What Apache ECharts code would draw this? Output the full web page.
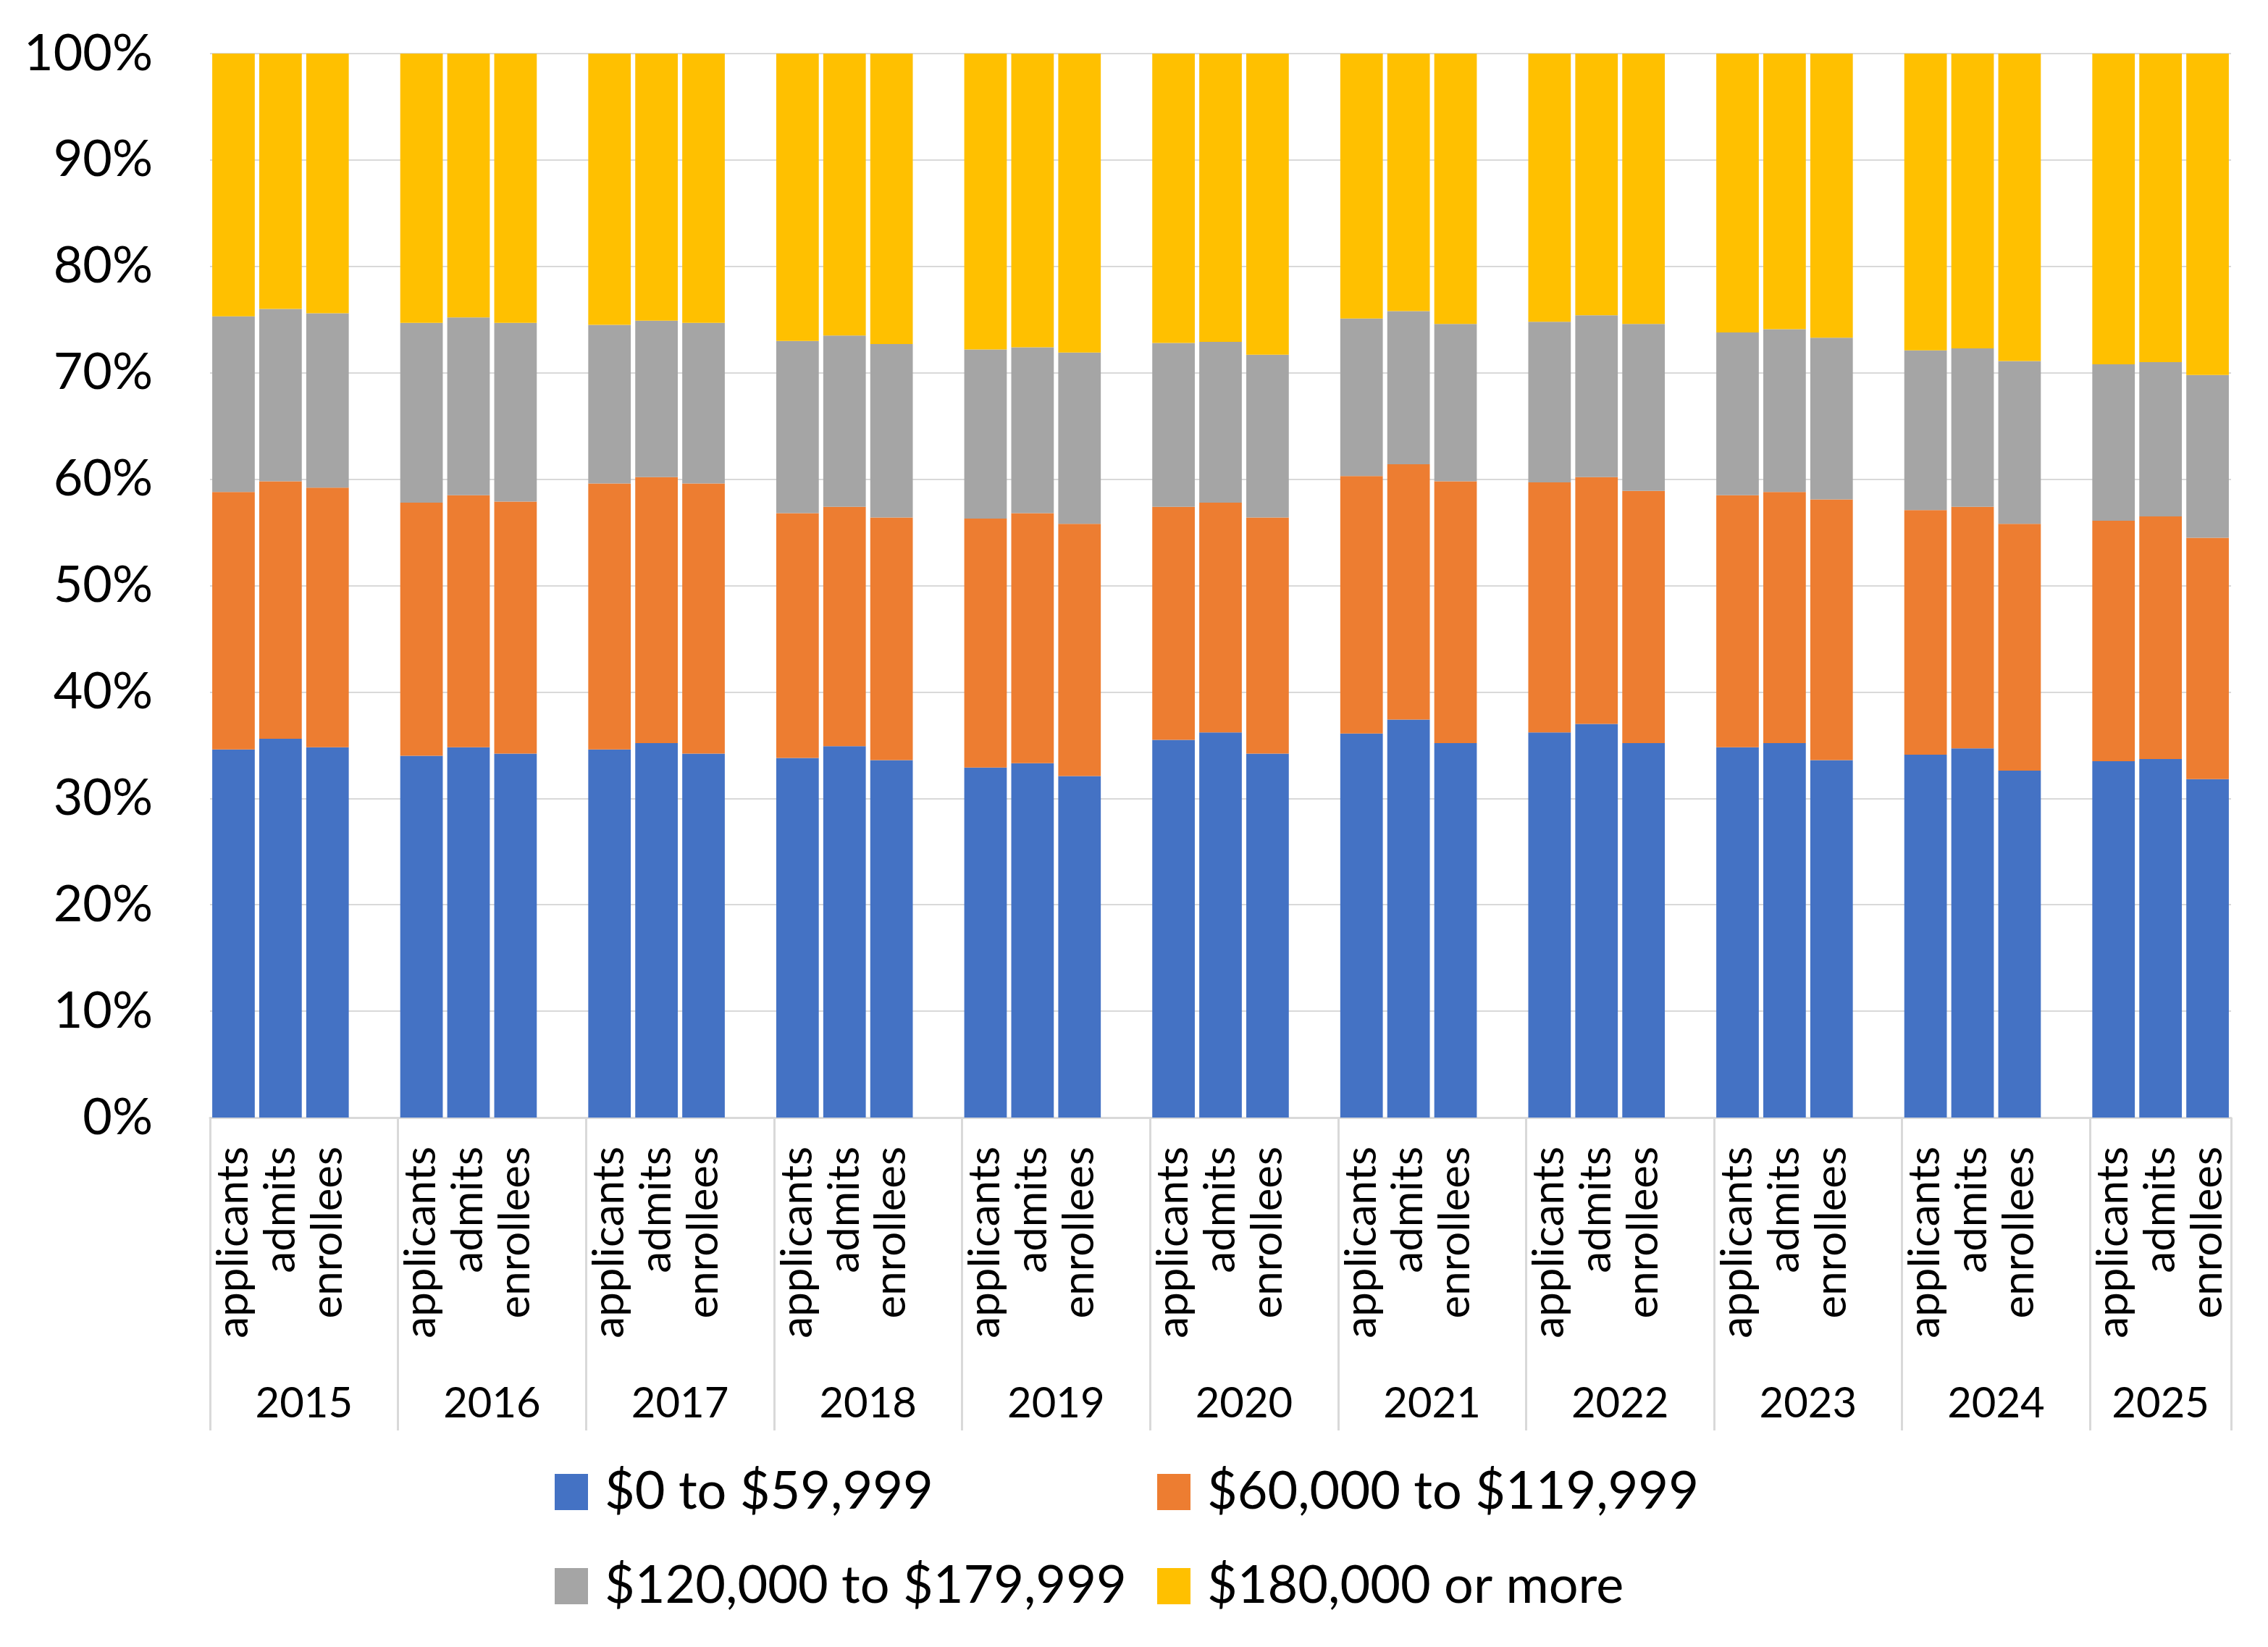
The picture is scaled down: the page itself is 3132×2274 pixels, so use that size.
<!DOCTYPE html>
<html>
<head>
<meta charset="utf-8">
<script src="https://cdn.jsdelivr.net/npm/echarts@6/dist/echarts.min.js"></script>
<style>
  html, body { margin: 0; padding: 0; background: #ffffff; }
  #chart { width: 3132px; height: 2274px; }
</style>
</head>
<body>
<div id="chart"></div>
<script>
// ---- Data (percent of each bar) ----
const years = ['2015','2016','2017','2018','2019','2020','2021','2022','2023','2024','2025'];
const stages = ['applicants','admits','enrollees'];
const seriesNames = ['$0 to $59,999','$60,000 to $119,999','$120,000 to $179,999','$180,000 or more'];
const seriesColors = ['#4472C4','#ED7D31','#A5A5A5','#FFC000'];
const yTicks = [0,10,20,30,40,50,60,70,80,90,100];

const income0to60k = [
  34.6, 35.6, 34.8,  34.0, 34.8, 34.2,  34.6, 35.2, 34.2,  33.8, 34.9, 33.6,
  32.9, 33.3, 32.1,  35.5, 36.2, 34.2,  36.1, 37.4, 35.2,  36.2, 37.0, 35.2,
  34.8, 35.2, 33.6,  34.1, 34.7, 32.6,  33.5, 33.7, 31.8
];
const income60to120k = [
  24.2, 24.2, 24.4,  23.8, 23.7, 23.7,  25.0, 25.0, 25.4,  23.0, 22.5, 22.8,
  23.4, 23.5, 23.7,  21.9, 21.6, 22.2,  24.2, 24.0, 24.6,  23.5, 23.2, 23.7,
  23.7, 23.6, 24.5,  23.0, 22.7, 23.2,  22.6, 22.8, 22.7
];
const income120to180k = [
  16.5, 16.2, 16.4,  16.9, 16.7, 16.8,  14.9, 14.7, 15.1,  16.2, 16.1, 16.3,
  15.9, 15.6, 16.1,  15.4, 15.1, 15.3,  14.8, 14.4, 14.8,  15.1, 15.2, 15.7,
  15.3, 15.3, 15.2,  15.0, 14.9, 15.3,  14.7, 14.5, 15.3
];
const income180kPlus = [
  24.7, 24.0, 24.4,  25.3, 24.8, 25.3,  25.5, 25.1, 25.3,  27.0, 26.5, 27.3,
  27.8, 27.6, 28.1,  27.2, 27.1, 28.3,  24.9, 24.2, 25.4,  25.2, 24.6, 25.4,
  26.2, 25.9, 26.7,  27.9, 27.7, 28.9,  29.2, 29.0, 30.2
];

// ---- Build slot categories: 3 stages per year + an empty spacer slot between years ----
const slotLabels = [];
const slotIndexOfBar = [];
years.forEach((y, i) => {
  stages.forEach((s) => { slotIndexOfBar.push(slotLabels.length); slotLabels.push(s); });
  if (i < years.length - 1) slotLabels.push('');
});
const nSlots = slotLabels.length; // 43

function toSlots(values) {
  const out = new Array(nSlots).fill(null);
  values.forEach((v, k) => { out[slotIndexOfBar[k]] = v; });
  return out;
}

// Year axis in half-slot units (points, boundaryGap false)
const halfLabels = new Array(2 * nSlots + 1).fill('');
const boundarySet = new Set();
let start = 0;
years.forEach((y, i) => {
  const w = (i < years.length - 1) ? stages.length + 1 : stages.length;
  boundarySet.add(2 * start);
  halfLabels[2 * start + w] = y;
  start += w;
});
boundarySet.add(2 * nSlots);

const FONT = 'Lato';
const GRID_COLOR = '#D9D9D9';

const seriesData = [income0to60k, income60to120k, income120to180k, income180kPlus];

const chart = echarts.init(document.getElementById('chart'), null, { renderer: 'canvas' });
chart.setOption({
  animation: false,
  backgroundColor: '#ffffff',
  textStyle: { fontFamily: FONT, color: '#000000' },
  grid: { left: 290, right: 51, top: 74, bottom: 731, containLabel: false, outerBoundsMode: 'none' },
  legend: [
    {
      data: [seriesNames[0], seriesNames[2]],
      orient: 'vertical', left: 766, top: 2020, padding: 0,
      icon: 'rect', itemWidth: 46, itemHeight: 50, itemGap: 50,
      textStyle: { fontFamily: FONT, fontSize: 72, color: '#000', lineHeight: 80, padding: [0, 0, 0, 18] }
    },
    {
      data: [seriesNames[1], seriesNames[3]],
      orient: 'vertical', left: 1598, top: 2020, padding: 0,
      icon: 'rect', itemWidth: 46, itemHeight: 50, itemGap: 50,
      textStyle: { fontFamily: FONT, fontSize: 72, color: '#000', lineHeight: 80, padding: [0, 0, 0, 18] }
    }
  ],
  xAxis: [
    {
      type: 'category',
      data: slotLabels,
      position: 'bottom',
      axisLine: { show: true, lineStyle: { color: GRID_COLOR, width: 3 } },
      axisTick: { show: false },
      axisLabel: { interval: 0, rotate: 90, margin: 40, fontFamily: FONT, fontSize: 60, color: '#000' },
      splitLine: { show: false }
    },
    {
      type: 'category',
      data: halfLabels,
      position: 'bottom',
      boundaryGap: false,
      axisLine: { show: false },
      axisTick: {
        show: true, length: 432,
        interval: function (index) { return boundarySet.has(index); },
        lineStyle: { color: GRID_COLOR, width: 3 }
      },
      axisLabel: {
        interval: function (index, value) { return value !== ''; },
        margin: 366, fontFamily: FONT, fontSize: 58, color: '#000', lineHeight: 58
      },
      splitLine: { show: false }
    }
  ],
  yAxis: {
    type: 'value', min: yTicks[0], max: yTicks[yTicks.length - 1], interval: yTicks[1] - yTicks[0],
    axisLine: { show: false },
    axisTick: { show: false },
    axisLabel: { formatter: '{value}%', margin: 79, fontFamily: FONT, fontSize: 70, color: '#000' },
    splitLine: { show: true, lineStyle: { color: GRID_COLOR, width: 2 } }
  },
  series: seriesNames.map((name, i) => ({
    name: name,
    type: 'bar',
    stack: 'total',
    xAxisIndex: 0,
    barCategoryGap: '9.5%',
    itemStyle: { color: seriesColors[i] },
    data: toSlots(seriesData[i])
  }))
});
</script>
</body>
</html>
